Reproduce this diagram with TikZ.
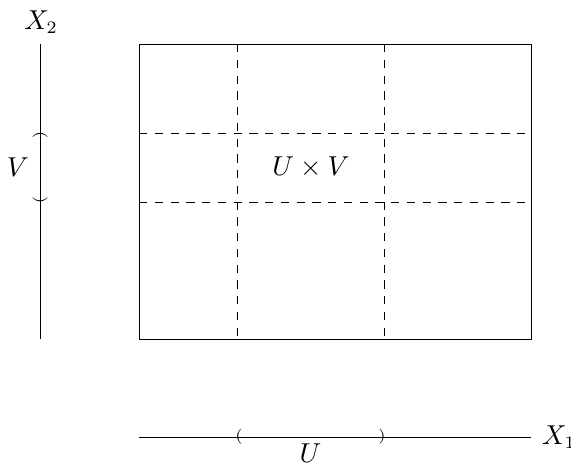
\documentclass[tikz,border=0pt]{standalone}
\begin{document}
\begin{tikzpicture}[x=0.4pt,y=-0.4pt,
  font=\fontsize{10.6}{12}\selectfont,
  grid/.style={dash pattern=on 3.3pt off 3pt},
  paren/.style={inner sep=0pt, font=\fontsize{6}{6}\selectfont}]
\useasboundingbox (0,0) rectangle (571,463);
% square
\coordinate (A) at (139,44);
\coordinate (B) at (531,339);
\draw (A) rectangle (B);
\draw[grid] (237,44) -- (237,339);
\draw[grid] (384,44) -- (384,339);
\draw[grid] (139,133) -- (531,133);
\draw[grid] (139,202) -- (531,202);
\node (UV) at (311,167.5) {$U\times V$};
% vertical axis
\coordinate (y0) at (40,339);
\coordinate (y1) at (40,44);
\draw (y0) -- (y1);
\node[anchor=south] (X2) at (41,42) {$X_2$};
\node[paren, rotate=-90] (vp1) at (40,135) {(};
\node[paren, rotate=-90] (vp2) at (40,200) {)};
\node (V) at (18,167.5) {$V$};
% horizontal axis
\coordinate (x0) at (139,437);
\coordinate (x1) at (531,437);
\draw (x0) -- (x1);
\node[anchor=west] (X1) at (533,437) {$X_1$};
\node[paren] (hp1) at (239,437) {(};
\node[paren] (hp2) at (382,437) {)};
\node (U) at (310.5,453) {$U$};
\end{tikzpicture}
\end{document}
